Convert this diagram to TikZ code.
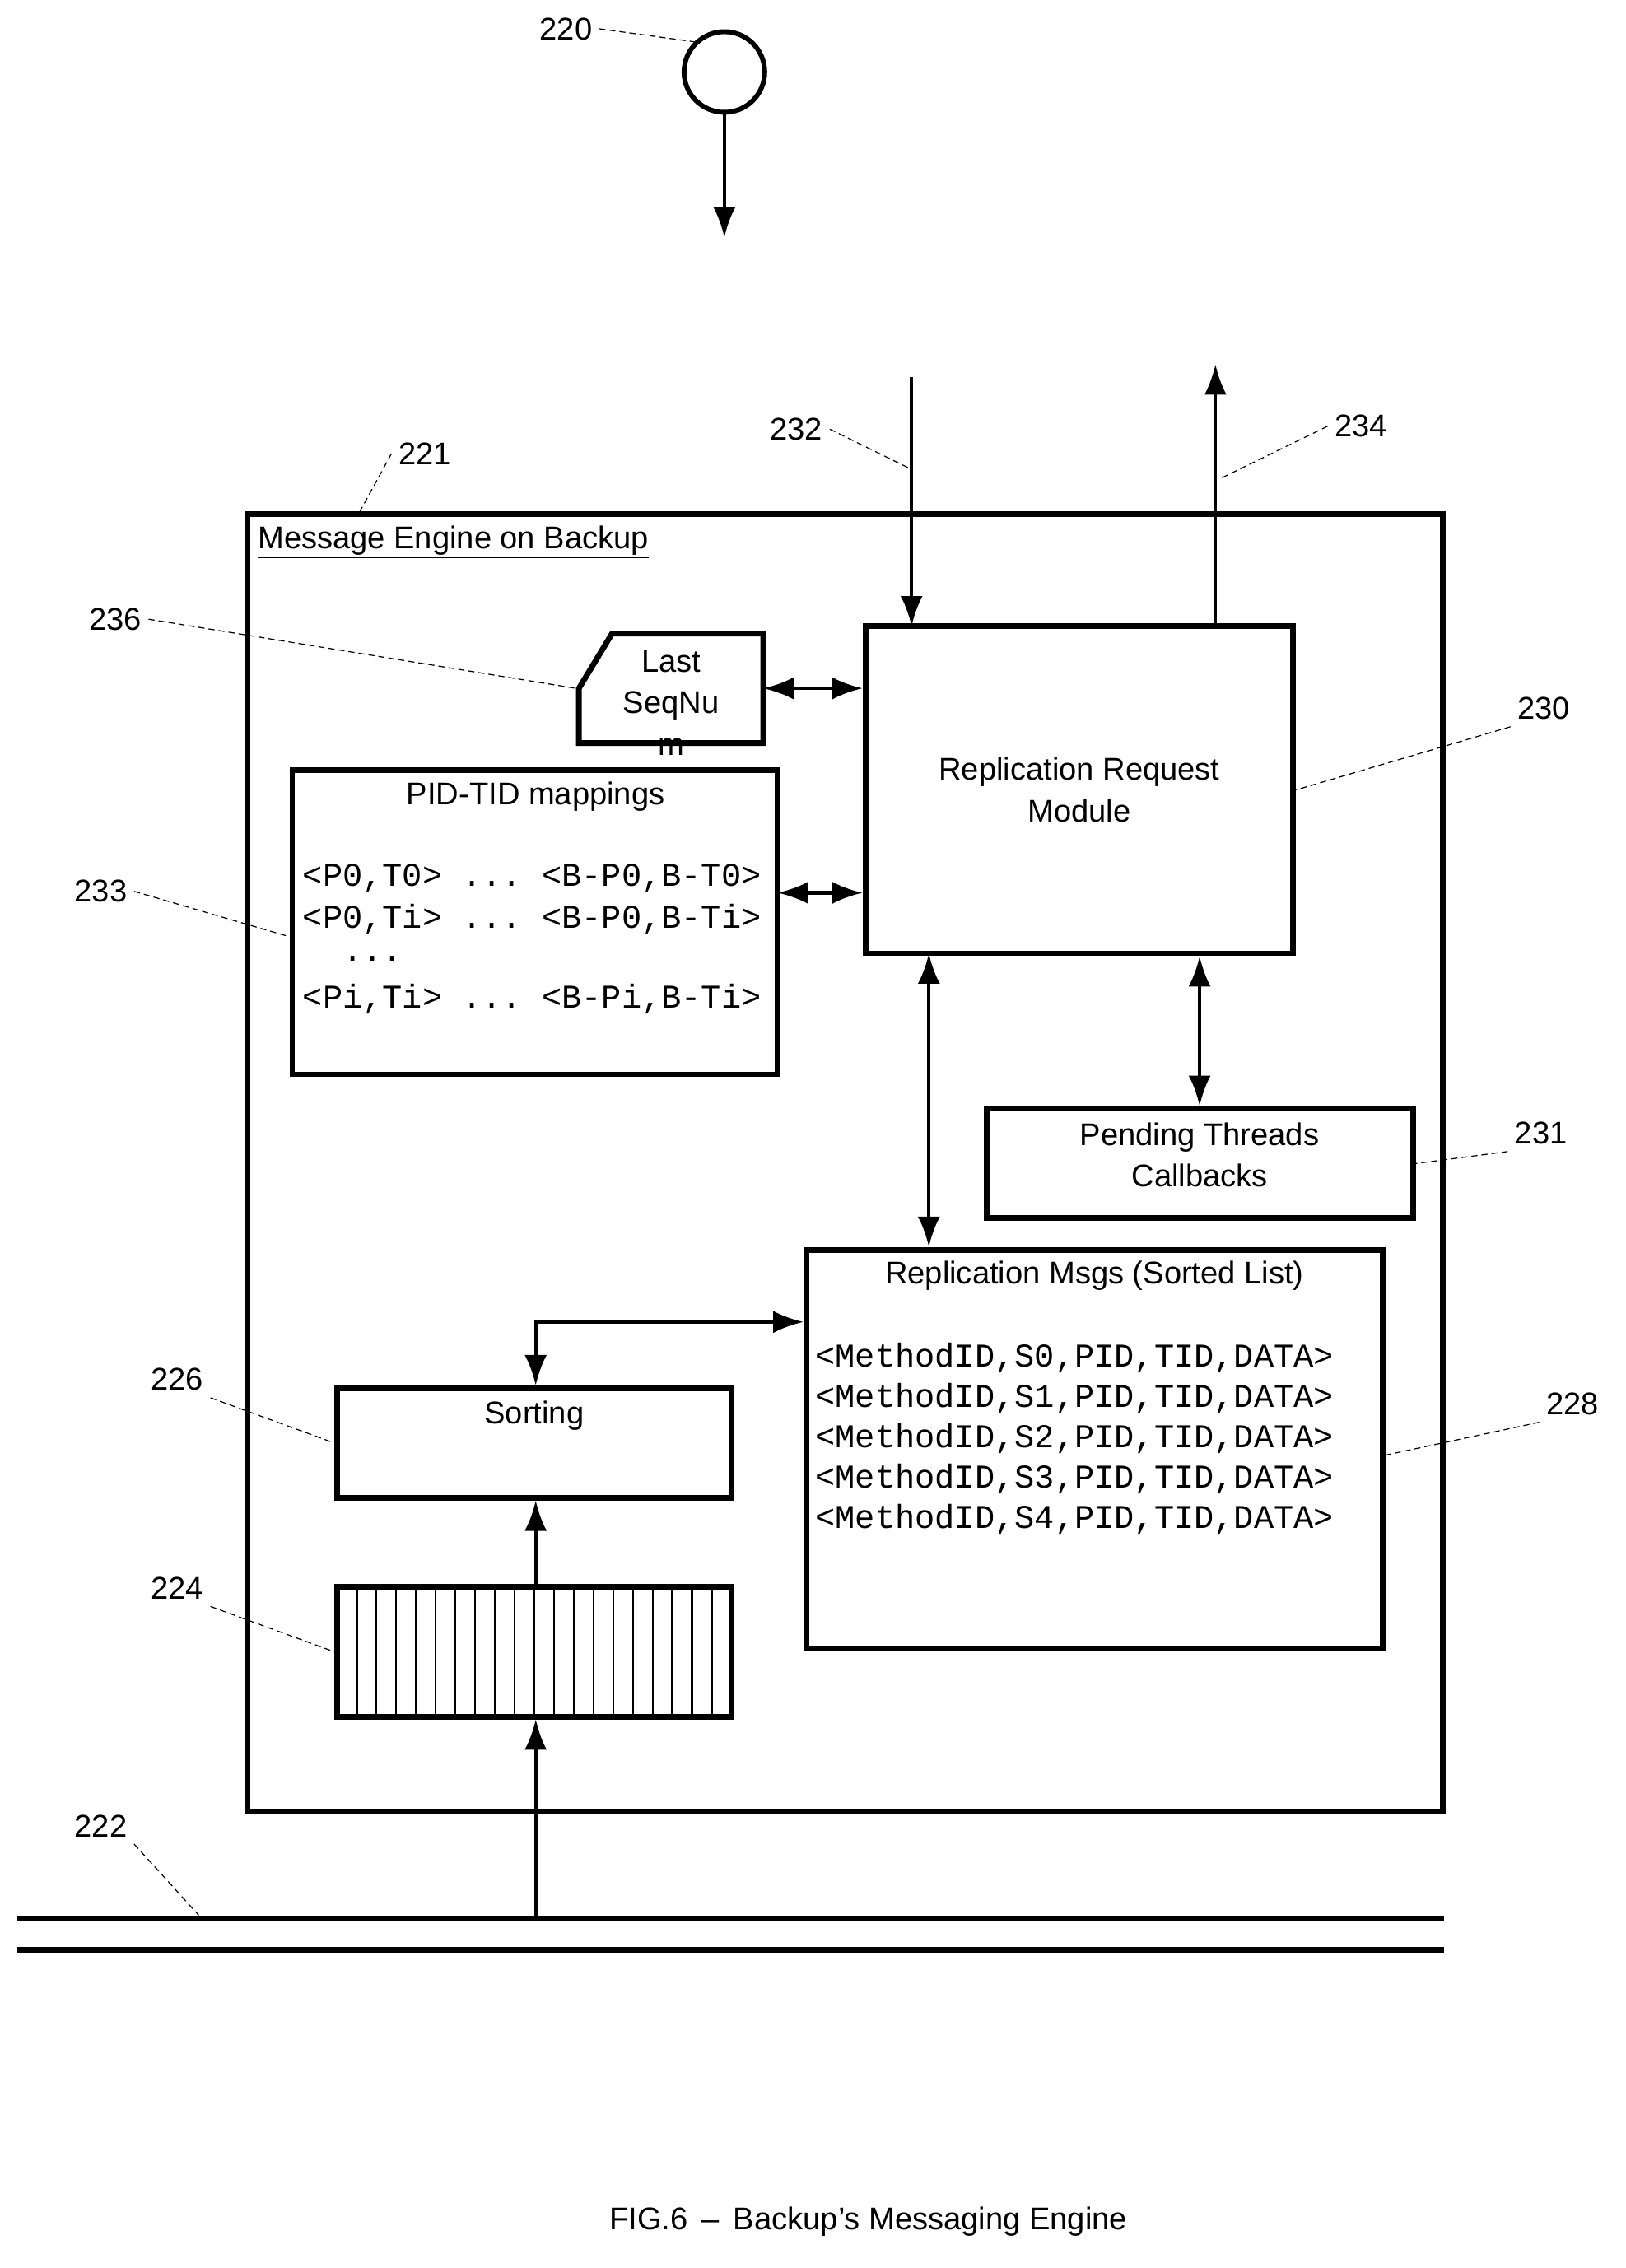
\documentclass[tikz,border=0pt]{standalone}
\usepackage{fontspec}
\setmainfont{Liberation Sans}
\setmonofont{Liberation Mono}
\usetikzlibrary{arrows.meta,positioning}

\tikzset{
    box/.style={draw, line width=2.8pt, rectangle, inner sep=0pt},
    txt/.style={font=\fontsize{15.5}{20.5}\selectfont, align=center},
    mono/.style={font=\fontsize{16.4}{20}\ttfamily, anchor=west, inner sep=0pt},
    num/.style={font=\fontsize{15.5}{18}\selectfont},
    lead/.style={densely dashed, line width=0.5pt},
    link/.style={line width=1.7pt, -{Latex[length=15pt,width=11pt]}},
    both/.style={line width=1.7pt, {Latex[length=15pt,width=11pt]}-{Latex[length=15pt,width=11pt]}}
}

\begin{document}
\begin{tikzpicture}[x=0.025cm, y=-0.025cm]
    \useasboundingbox (0,0) rectangle (1129,1575);

    % caller
    \node[draw, circle, line width=2.4pt, minimum size=1.4cm] (caller) at (503,50) {};
    \coordinate (callerout) at (503,165);
    \draw[link] (caller) -- (callerout);
    \node[num] (n220) at (393,20) {220};
    \draw[lead] (n220.east) -- (caller.north west);

    % outer engine box
    \node[box, minimum width=20.75cm, minimum height=22.525cm] (engine) at (587,807.5) {};
    \node[txt, anchor=north west, inner sep=2pt] (etitle) at (176,362) {\underline{Message Engine on Backup}};
    \node[num] (n221) at (295,315) {221};
    \coordinate (e221) at (250,355);
    \draw[lead] (n221.west) -- (e221);

    % replication request module
    \node[box, minimum width=7.425cm, minimum height=5.675cm, txt] (rrm) at (749.5,548.5) {Replication Request\\Module};
    \node[num] (n230) at (1072,492) {230};
    \draw[lead] (n230.south west) -- (rrm.east);

    \coordinate (in232) at (633,262);
    \coordinate (rrmin) at (633,435);
    \draw[link] (in232) -- (rrmin);
    \node[num] (n232) at (553,298) {232};
    \coordinate (m232) at (631,325);
    \draw[lead] (n232.east) -- (m232);

    \coordinate (rrmout) at (844,435);
    \coordinate (out234) at (844,253);
    \draw[link] (rrmout) -- (out234);
    \node[num] (n234) at (945,296) {234};
    \coordinate (m234) at (846,333);
    \draw[lead] (n234.west) -- (m234);

    % last sequence number
    \draw[line width=2.8pt] (402,478) -- (425,440) -- (530,440) -- (530,516) -- (402,516) -- cycle;
    \coordinate (lastcut) at (400,478);
    \coordinate (laste) at (530,478);
    \node[txt] (last) at (466,488) {Last\\SeqNu\\m};
    \node[num] (n236) at (80,430) {236};
    \draw[lead] (n236.east) -- (lastcut);
    \draw[both] (laste) -- (rrm.west |- laste);

    % pid-tid mappings
    \node[box, minimum width=8.425cm, minimum height=5.275cm] (pid) at (371.5,640.5) {};
    \node[txt] (pidtitle) at (372,553) {PID-TID mappings};
    \node[mono] (p0) at (210,610) {<P0,T0> ... <B-P0,B-T0>};
    \node[mono] (p1) at (210,638) {<P0,Ti> ... <B-P0,B-Ti>};
    \node[mono] (p2) at (210,666) {\ \ ...};
    \node[mono] (p3) at (210,694) {<Pi,Ti> ... <B-Pi,B-Ti>};
    \node[num] (n233) at (70,619) {233};
    \draw[lead] (n233.east) -- ([yshift=-0.25cm]pid.west);
    \coordinate (pide) at (540,620);
    \draw[both] (pide) -- (rrm.west |- pide);

    % pending threads
    \node[box, minimum width=7.4cm, minimum height=1.9cm] (pend) at (833,808) {};
    \node[txt] (pendtxt) at (833,802) {Pending Threads\\Callbacks};
    \node[num] (n231) at (1070,787) {231};
    \draw[lead] (n231.south west) -- (pend.east);
    \draw[both] (rrm.south -| pend) -- (pend.north);

    % replication messages
    \node[box, minimum width=10cm, minimum height=6.925cm] (msgs) at (760,1006.5) {};
    \node[txt] (msgtitle) at (760,886) {Replication Msgs (Sorted List)};
    \foreach \s in {0,...,4}
        \node[mono] (m\s) at (566,943+28*\s) {<MethodID,S\s,PID,TID,DATA>};
    \node[num] (n228) at (1092,975) {228};
    \draw[lead] (n228.south west) -- ([yshift=-0.1cm]msgs.east);
    \coordinate (rrmdown) at (645,662);
    \draw[both] (rrmdown) -- (rrmdown |- msgs.north);

    % sorting
    \node[box, minimum width=6.85cm, minimum height=1.9cm] (sort) at (371,1002) {};
    \node[txt] (sorttxt) at (371,983) {Sorting};
    \node[num] (n226) at (123,958) {226};
    \draw[lead] (n226.south east) -- (sort.west);
    \coordinate (bend) at (372,918);
    \coordinate (msgin) at (558,918);
    \draw[both] (sort.north -| bend) -- (bend) -- (msgin);

    % incoming queue
    \node[box, minimum width=6.85cm, minimum height=2.25cm] (queue) at (371,1147) {};
    \foreach \i in {1,...,19}
        \draw[line width=1pt] (234+13.7*\i,1102) -- (234+13.7*\i,1192);
    \node[num] (n224) at (123,1103) {224};
    \draw[lead] (n224.south east) -- (queue.west);
    \draw[link] (queue.north -| bend) -- (sort.south -| bend);

    % bus
    \coordinate (busa) at (12,1332);
    \coordinate (busb) at (1003,1332);
    \coordinate (busc) at (12,1354);
    \coordinate (busd) at (1003,1354);
    \draw[line width=2.6pt] (busa) -- (busb) (busc) -- (busd);
    \coordinate (tap) at (372,1332);
    \draw[link] (tap) -- (queue.south -| tap);
    \node[num] (n222) at (70,1268) {222};
    \coordinate (b222) at (138,1330);
    \draw[lead] (n222.south east) -- (b222);

    % caption
    \node[num] (caption) at (603,1543) {FIG.6 \,--\, Backup's Messaging Engine};
\end{tikzpicture}
\end{document}
